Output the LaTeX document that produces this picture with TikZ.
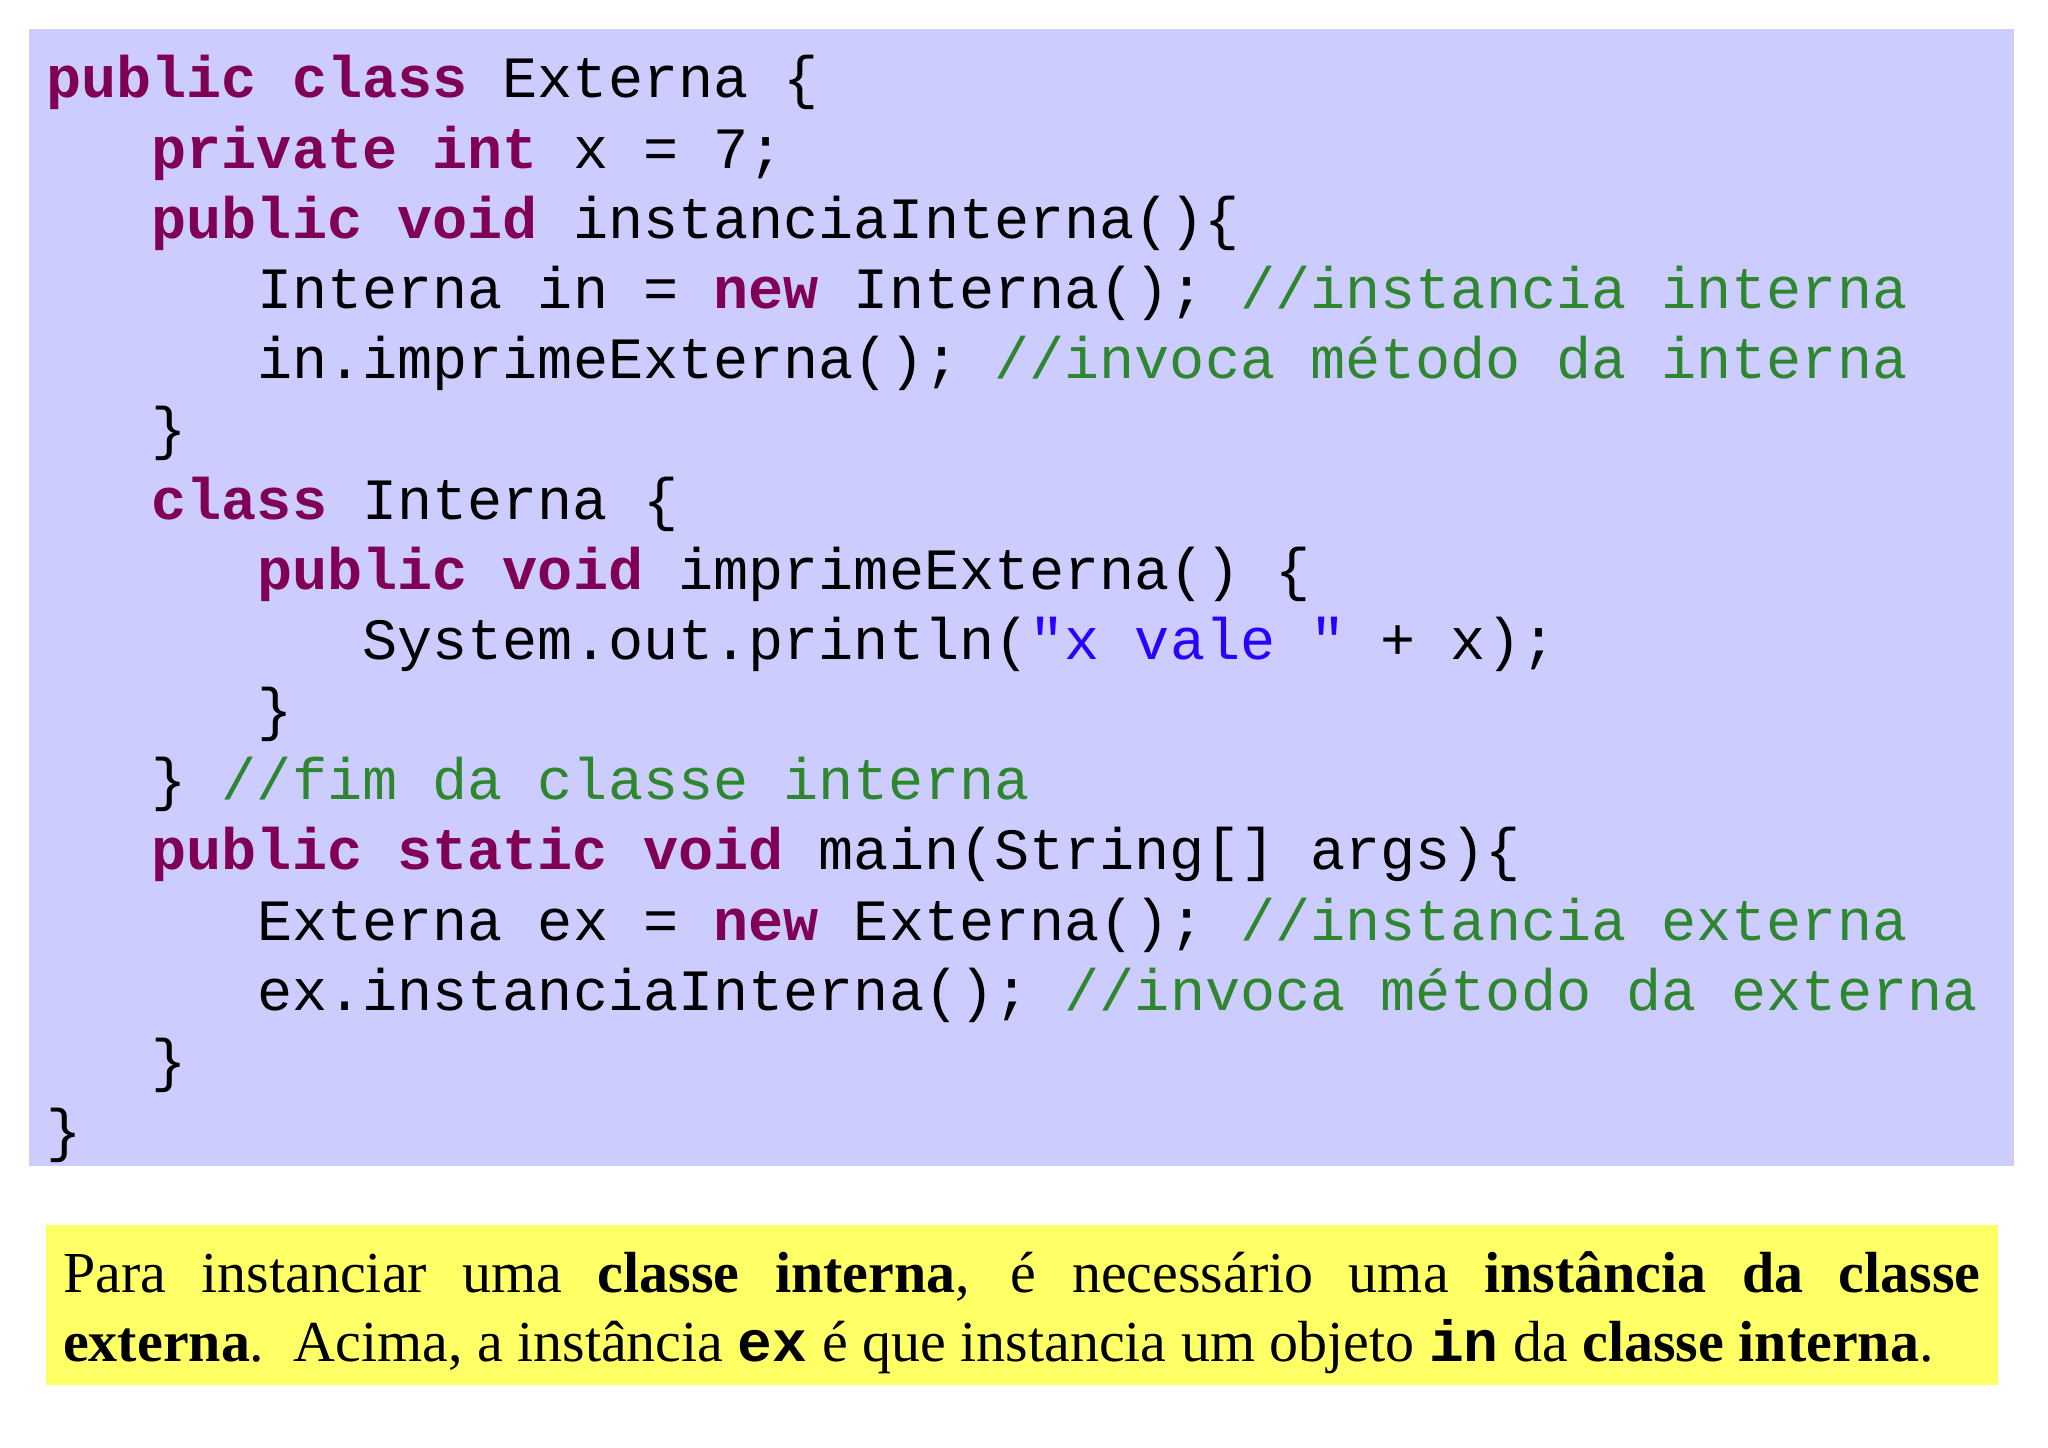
\documentclass[tikz,border=0pt]{standalone}
\usepackage{fontspec}
\setmainfont{Liberation Serif}
\setmonofont{Liberation Mono}
\definecolor{bgblue}{HTML}{CCCCFF}
\definecolor{bgyel}{HTML}{FFFF66}
\definecolor{kw}{HTML}{7F0055}
\definecolor{cm}{HTML}{2E862E}
\definecolor{st}{HTML}{2A00FF}
\newcommand\kw[1]{\textbf{\color{kw}#1}}
\newcommand\cm[1]{{\color{cm}#1}}
\newcommand\stq[1]{{\color{st}#1}}
\begin{document}
\begin{tikzpicture}[x=0.5pt,y=-0.5pt,
  code/.style={anchor=base west,inner sep=0pt,font=\fontsize{22.4pt}{26pt}\ttfamily}]
\useasboundingbox (0,0) rectangle (1568,1108);
\fill[white] (0,0) rectangle (1568,1108);
\fill[bgblue] (22,22) rectangle (1542,893);
\fill[bgyel] (35,938) rectangle (1530,1060);
\def\ch{26.9}
\def\bl#1{75+53.73*#1}
\node[code] (l0) at (35,{\bl{0}}) {\kw{public} \kw{class} Externa \{};
\node[code] (l1) at ({35+3*\ch},{\bl{1}}) {\kw{private} \kw{int} x = 7;};
\node[code] (l2) at ({35+3*\ch},{\bl{2}}) {\kw{public} \kw{void} instanciaInterna()\{};
\node[code] (l3) at ({35+6*\ch},{\bl{3}}) {Interna in = \kw{new} Interna(); \cm{//instancia interna}};
\node[code] (l4) at ({35+6*\ch},{\bl{4}}) {in.imprimeExterna(); \cm{//invoca método da interna}};
\node[code] (l5) at ({35+3*\ch},{\bl{5}}) {\}};
\node[code] (l6) at ({35+3*\ch},{\bl{6}}) {\kw{class} Interna \{};
\node[code] (l7) at ({35+6*\ch},{\bl{7}}) {\kw{public} \kw{void} imprimeExterna() \{};
\node[code] (l8) at ({35+9*\ch},{\bl{8}}) {System.out.println(\stq{"x vale "} + x);};
\node[code] (l9) at ({35+6*\ch},{\bl{9}}) {\}};
\node[code] (l10) at ({35+3*\ch},{\bl{10}}) {\} \cm{//fim da classe interna}};
\node[code] (l11) at ({35+3*\ch},{\bl{11}}) {\kw{public} \kw{static} \kw{void} main(String[] args)\{};
\node[code] (l12) at ({35+6*\ch},{\bl{12}}) {Externa ex = \kw{new} Externa(); \cm{//instancia externa}};
\node[code] (l13) at ({35+6*\ch},{\bl{13}}) {ex.instanciaInterna(); \cm{//invoca método da externa}};
\node[code] (l14) at ({35+3*\ch},{\bl{14}}) {\}};
\node[code] (l15) at (35,{\bl{15}}) {\}};
\node[anchor=north west,inner sep=0pt,text width=734pt,align=justify,
  font=\fontsize{22.2pt}{26.5pt}\selectfont] (txt) at (48,958)
  {Para instanciar uma \textbf{classe interna}, é necessário uma \textbf{instância da classe}\linebreak
   \textbf{externa}.\ \ Acima, a instância \texttt{\textbf{ex}} é que instancia um objeto \texttt{\textbf{in}} da \textbf{classe interna}.};
\end{tikzpicture}
\end{document}
